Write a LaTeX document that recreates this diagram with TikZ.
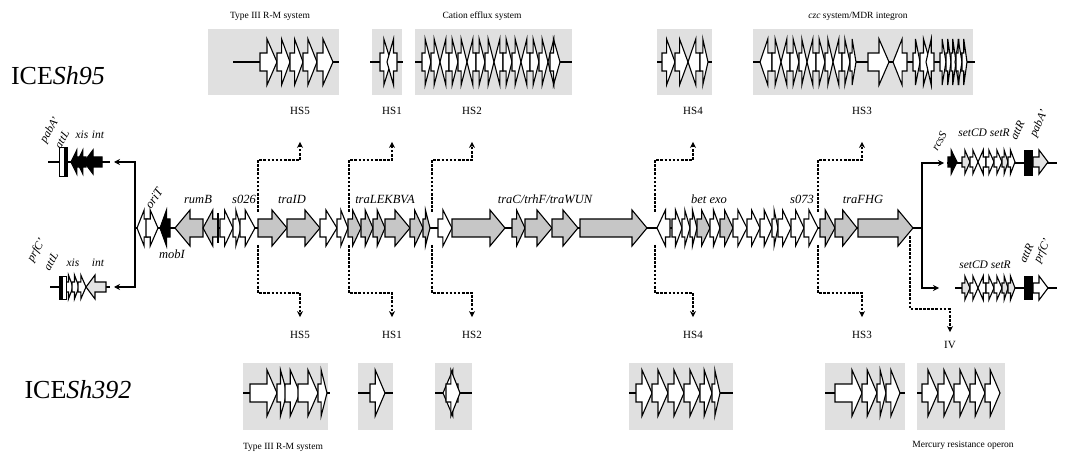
\documentclass[tikz,border=0pt]{standalone}
\usepackage{fontspec}
\setmainfont{Liberation Serif}
\usetikzlibrary{arrows.meta}

\colorlet{gfill}{gray!45}
\colorlet{lfill}{gray!22}
% gene arrow sizes: body half height, head half height, head length
\newcommand\gbody{9}
\newcommand\ghead{18}
\newcommand\glen{15}
% \gene{tail x}{tip x}{y}{fill}
\newcommand\gene[4]{%
  \pgfmathsetmacro\gd{#2-#1}%
  \pgfmathsetmacro\gs{sign(\gd)}%
  \pgfmathsetmacro\gl{min(\glen,0.65*abs(\gd))}%
  \pgfmathsetmacro\gneck{#2-\gs*\gl}%
  \draw[gw,fill=#4] (#1,#3-\gbody) -- (\gneck,#3-\gbody) -- (\gneck,#3-\ghead)
    -- (#2,#3) -- (\gneck,#3+\ghead) -- (\gneck,#3+\gbody) -- (#1,#3+\gbody) -- cycle;}

\begin{document}
\begin{tikzpicture}[x=1pt,y=-1pt,
  gw/.style={draw,line width=1.1pt,line join=miter},
  insbox/.style={fill=gray!24},
  dna/.style={line width=1.2pt},
  dlink/.style={dash pattern=on 2.6pt off 1.5pt,line width=1.3pt,-{Stealth[length=6pt,width=6pt]}},
  link/.style={line width=1.2pt,-{Stealth[length=6pt,width=6pt]}},
  hslab/.style={font=\fontsize{11}{12}\selectfont,inner sep=1pt},
  caption/.style={font=\fontsize{9.5}{11}\selectfont},
  glab/.style={font=\fontsize{12.5}{14}\selectfont\itshape,inner sep=1pt},
  clab/.style={font=\fontsize{11.5}{13}\selectfont\itshape,inner sep=0.5pt},
  title/.style={font=\fontsize{26}{30}\selectfont}
]
\useasboundingbox (0,0) rectangle (1068,454);

\node[title] (ice95) at (58,76) {ICE\textit{Sh95}};
\node[title] (ice392) at (78,390) {ICE\textit{Sh392}};

% insertion boxes, ICESh95
\fill[insbox] (208,29) rectangle (339,95);
\fill[insbox] (372,29) rectangle (402,95);
\fill[insbox] (415,29) rectangle (572,95);
\fill[insbox] (657,29) rectangle (712,95);
\fill[insbox] (753,29) rectangle (973,95);
\node[caption] (cap-rm) at (270,16) {Type III R-M system};
\node[caption] (cap-czc) at (482,16) {Cation efflux system};
\node[caption] (cap-mdr) at (858,16) {\textit{czc} system/MDR integron};

% insertion boxes, ICESh392
\fill[insbox] (243,363) rectangle (328,430);
\fill[insbox] (358,363) rectangle (393,430);
\fill[insbox] (435,363) rectangle (472,430);
\fill[insbox] (629,363) rectangle (733,430);
\fill[insbox] (825,363) rectangle (905,430);
\fill[insbox] (917,363) rectangle (1005,430);
\node[caption] (cap-rm2) at (283,447) {Type III R-M system};
\node[caption] (cap-mer) at (963,445) {Mercury resistance operon};

\draw[dna] (233,62) -- (339,62);
\draw[dna] (370,62) -- (403,62);
\draw[dna] (415,62) -- (572,62);
\draw[dna] (657,62) -- (712,62);
\draw[dna] (753,62) -- (975,62);
\draw[dna] (243,393) -- (330,393);
\draw[dna] (358,393) -- (393,393);
\draw[dna] (435,393) -- (472,393);
\draw[dna] (629,393) -- (733,393);
\draw[dna] (825,393) -- (905,393);
\draw[dna] (917,393) -- (1000,393);

\begin{scope}
\renewcommand\gbody{9}\renewcommand\ghead{23}\renewcommand\glen{10}
\foreach \a/\b in {260/277,277/290,290/303,303/317,317/333,
  380/391,397/387,
  422/431,431/440,449/440,449/458,458/467,476/467,476/485,485/494,
  503/494,503/512,512/521,530/521,530/539,539/548,557/548,550/560,
  662/675,675/688,700/688,700/708,
  772/760,772/781,790/781,790/799,799/807,816/807,816/825,825/833,
  842/833,842/850,850/856,868/889,907/893,913/920,920/930,934/926,
  940/946,946/951,951/956,961/955,956/962,962/967}
  {\gene{\a}{\b}{62}{white}}
\foreach \a/\b in {250/277,277/287,285/300,298/318,318/327,
  370/385,458/443,446/460,
  636/652,652/668,668/684,684/700,700/712,712/720,
  835/862,862/877,877/886,886/900,
  922/938,938/954,954/970,970/985,985/1000}
  {\gene{\a}{\b}{393}{white}}
\end{scope}

% backbone of ICESh95
\coordinate (bbl) at (135,228);
\coordinate (bbr) at (922,228);
\draw[dna] (bbl) -- (bbr);
\foreach \a/\b/\f in {148/137/white,146/158/white,170/160/black,203/175/gfill,
  218/203/gfill,220/233/white,233/241/white,240/255/white,258/287/gfill,
  287/320/gfill,320/337/white,337/348/white,348/361/gfill,361/373/gfill,
  373/385/gfill,385/410/gfill,410/423/gfill,423/430/gfill,438/452/white,
  452/505/gfill,512/525/gfill,525/552/gfill,552/578/gfill,580/647/gfill,
  670/657/white,672/682/white,682/690/white,690/697/white,697/710/gfill,
  710/720/white,720/733/gfill,733/747/white,747/760/white,760/772/white,
  772/778/white,778/791/white,791/804/white,804/818/white,820/835/gfill,
  835/857/gfill,858/913/gfill}
  {\gene{\a}{\b}{228}{\f}}
\draw[line width=1.6pt] (218,213) -- (218,243);

\node[glab,rotate=55,anchor=west] (orit) at (147,208) {oriT};
\node[glab] (mobi) at (172,254) {mobI};
\node[glab] (rumb) at (198,199) {rumB};
\node[glab] (s026) at (244,199) {s026};
\node[glab] (traid) at (292,199) {traID};
\node[glab] (tralek) at (385,199) {traLEKBVA};
\node[glab] (tracw) at (545,199) {traC/trhF/traWUN};
\node[glab] (betexo) at (709,199) {bet exo};
\node[glab] (s073) at (802,199) {s073};
\node[glab] (trafhg) at (863,199) {traFHG};

% hotspots
\foreach \n/\xs/\xe in {5/258/300,1/349/392,2/432/472,4/655/693,3/818/862} {
  \coordinate (u\n) at (\xs,212);
  \coordinate (d\n) at (\xs,245);
  \node[hslab] (hsu\n) at (\xe,111) {HS\n};
  \node[hslab] (hsd\n) at (\xe,335) {HS\n};
  \draw[dlink,shorten >=26pt] (u\n) |- (hsu\n |- 0,160) -- (hsu\n.south);
  \draw[dlink,shorten >=13pt] (d\n) |- (hsd\n |- 0,293) -- (hsd\n.north);
}
\coordinate (u6) at (910,236);
\node[hslab] (iv) at (950,345) {IV};
\draw[dlink,shorten >=8pt] (u6) |- (iv |- 0,309) -- (iv.north);

% excision forms
\coordinate (c1) at (114,162);
\coordinate (c2) at (114,287);
\coordinate (c3) at (944,163);
\coordinate (c4) at (939,288);
\draw[link] (bbl) |- (c1);
\draw[link] (bbl) |- (c2);
\draw[link] (bbr) |- (c3);
\draw[link] (bbr) |- (c4);

\draw[dna] (48,162) -- (110,162);
\draw[dna] (50,287) -- (110,287);
\draw[dna] (947,163) -- (1057,163);
\draw[dna] (955,288) -- (1057,288);

\begin{scope}
\renewcommand\gbody{5}\renewcommand\ghead{12}\renewcommand\glen{9}
\foreach \a/\b/\f in {80/71/black,86/77/black,102/84/black,
  948/957/black,962/970/lfill,970/978/white,986/978/white,986/994/white,
  994/1002/white,1002/1008/lfill,1008/1015/white,1033/1048/lfill}
  {\gene{\a}{\b}{162}{\f}}
\foreach \a/\b/\f in {66/73/white,72/79/white,78/86/white,106/86/lfill}
  {\gene{\a}{\b}{287}{\f}}
\foreach \a/\b/\f in {962/970/lfill,970/978/white,986/978/white,986/994/white,
  994/1002/white,1002/1008/lfill,1008/1015/lfill,1033/1048/white}
  {\gene{\a}{\b}{288}{\f}}
\end{scope}

\draw[line width=1pt,fill=white] (59,148) rectangle (67,177);
\fill (64,148) rectangle (67,177);
\draw[line width=1pt,fill=white] (59,277) rectangle (66,300);
\fill (59,277) rectangle (63,300);
\fill (1024,150) rectangle (1033,176);
\fill (1024,276) rectangle (1033,300);

\node[clab,rotate=60,anchor=west] (paba1) at (43,143) {pabA'};
\node[clab,rotate=60,anchor=west] (attl1) at (57,148) {attL};
\node[clab] (xis1) at (82,135) {xis};
\node[clab] (int1) at (98,135) {int};
\node[clab,rotate=60,anchor=west] (prfc1) at (30,262) {prfC'};
\node[clab,rotate=60,anchor=west] (attl2) at (46,270) {attL};
\node[clab] (xis2) at (73,263) {xis};
\node[clab] (int2) at (98,263) {int};
\node[clab,rotate=60,anchor=west] (rcss) at (934,150) {rcsS};
\node[clab] (setcd1) at (984,133) {setCD setR};
\node[clab,rotate=65,anchor=west] (attr1) at (1013,140) {attR};
\node[clab,rotate=65,anchor=west] (paba2) at (1033,137) {pabA'};
\node[clab] (setcd2) at (985,265) {setCD setR};
\node[clab,rotate=65,anchor=west] (attr2) at (1022,263) {attR};
\node[clab,rotate=65,anchor=west] (prfc2) at (1037,263) {prfC'};
\end{tikzpicture}
\end{document}
